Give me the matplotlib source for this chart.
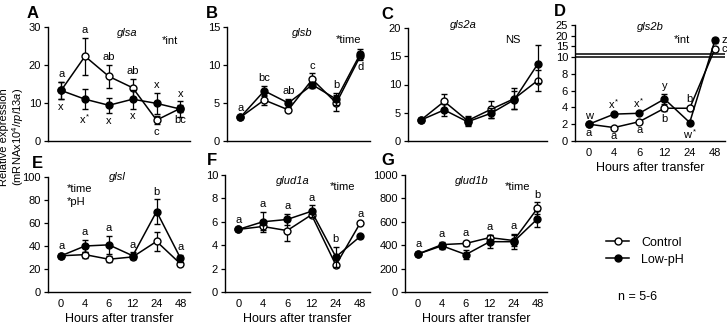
import numpy as np
import matplotlib
matplotlib.use('Agg')
import matplotlib.pyplot as plt
from matplotlib.lines import Line2D

plt.rcParams['font.family'] = ['Liberation Sans', 'DejaVu Sans']
plt.rcParams['mathtext.fontset'] = 'custom'
plt.rcParams['mathtext.rm'] = 'Liberation Sans'
plt.rcParams['mathtext.it'] = 'Liberation Sans:italic'

hours = ['0', '4', '6', '12', '24', '48']

# A glsa
glsa_ctrl = [13.3, 22.3, 17.0, 14.0, 5.5, 8.6]
glsa_ctrl_err = [2.2, 4.8, 3.0, 2.4, 1.0, 1.0]
glsa_low = [13.3, 11.0, 9.4, 11.0, 9.9, 8.4]
glsa_low_err = [2.2, 2.6, 2.0, 2.5, 2.8, 2.0]

# B glsb
glsb_ctrl = [3.1, 5.4, 4.1, 8.1, 5.0, 11.2]
glsb_ctrl_err = [0.2, 0.6, 0.3, 0.8, 1.1, 0.5]
glsb_low = [3.1, 6.6, 5.0, 7.4, 5.5, 11.5]
glsb_low_err = [0.2, 0.7, 0.5, 0.4, 0.8, 0.6]

# C gls2a
gls2a_ctrl = [3.7, 7.0, 3.6, 5.6, 7.5, 10.7]
gls2a_ctrl_err = [0.3, 1.4, 0.8, 1.5, 1.9, 1.8]
gls2a_low = [3.7, 5.5, 3.4, 4.9, 7.3, 13.6]
gls2a_low_err = [0.3, 1.1, 0.8, 0.9, 1.6, 3.4]

# D gls2b
gls2b_ctrl = [2.0, 1.6, 2.3, 3.9, 3.9, 13.8]
gls2b_ctrl_err = [0.1, 0.1, 0.1, 0.3, 0.2, 0.8]
gls2b_low = [2.0, 3.2, 3.3, 5.0, 2.2, 17.8]
gls2b_low_err = [0.1, 0.1, 0.1, 0.6, 0.2, 1.2]

# E glsl
glsl_ctrl = [31.5, 32.5, 28.5, 30.5, 44.0, 24.5]
glsl_ctrl_err = [1.5, 2.5, 2.5, 2.0, 8.0, 2.0]
glsl_low = [31.5, 40.0, 41.0, 31.5, 70.0, 29.5]
glsl_low_err = [1.5, 5.0, 8.0, 3.0, 10.5, 3.0]

# F glud1a
glud1a_ctrl = [5.35, 5.6, 5.25, 6.6, 2.3, 5.9]
glud1a_ctrl_err = [0.15, 0.3, 0.85, 0.2, 0.2, 0.1]
glud1a_low = [5.35, 6.0, 6.2, 6.9, 3.0, 4.75]
glud1a_low_err = [0.15, 0.85, 0.5, 0.5, 0.85, 0.1]

# G glud1b
glud1b_ctrl = [325, 405, 415, 465, 440, 715]
glud1b_ctrl_err = [15, 20, 20, 20, 45, 50]
glud1b_low = [325, 395, 320, 430, 430, 625]
glud1b_low_err = [15, 25, 35, 55, 65, 70]

W, H = 727, 327
fig = plt.figure(figsize=(W / 100, H / 100), dpi=100)


def px_axes(x0, x1, ytop, ybot):
    return fig.add_axes([x0 / W, 1 - ybot / H, (x1 - x0) / W, (ybot - ytop) / H])


def style(ax, ylim, yticks, xlabels=False):
    x = np.arange(6)
    ax.set_xlim(-0.55, 5.4)
    ax.set_ylim(*ylim)
    ax.set_yticks(yticks)
    ax.spines[['top', 'right']].set_visible(False)
    ax.spines[['left', 'bottom']].set_linewidth(1.0)
    ax.tick_params(axis='y', direction='out', length=3, width=0.9, labelsize=8, pad=2)
    ax.tick_params(axis='x', length=0, labelsize=8, pad=5)
    ax.set_xticks(x)
    if xlabels:
        ax.set_xticklabels(hours)
        ax.set_xlabel('Hours after transfer', fontsize=9, labelpad=3)
    else:
        ax.set_xticklabels([])


def draw(ax, ctrl, ctrl_err, low, low_err):
    x = np.arange(6)
    kw = dict(fmt='-o', color='k', ms=5, lw=1.1, capsize=2, elinewidth=0.9, capthick=0.9, mec='k', mew=1.0)
    ax.errorbar(x, ctrl, yerr=ctrl_err, mfc='white', zorder=3, **kw)
    ax.errorbar(x, low, yerr=low_err, mfc='k', zorder=4, **kw)


def letters(ax, vals, errs, marks, side):
    for i, m in enumerate(marks):
        if not m:
            continue
        if side[i] == 'up':
            ax.annotate(m, (i, vals[i] + errs[i]), xytext=(0, 2), textcoords='offset points',
                        ha='center', va='bottom', fontsize=8)
        elif side[i] == 'down':
            ax.annotate(m, (i, vals[i] - errs[i]), xytext=(0, -2), textcoords='offset points',
                        ha='center', va='top', fontsize=8)
        else:
            ax.annotate(m, (i, vals[i]), xytext=(5, 0), textcoords='offset points',
                        ha='left', va='center', fontsize=8)


def top_marks(ax, a, ae, b, be, marks):
    hi = [max(a[i] + ae[i], b[i] + be[i]) for i in range(6)]
    letters(ax, hi, [0] * 6, marks, ['up'] * 6)


def panel_text(ax, letter, lx, gene, gx, gy, note, nx, ny):
    ax.text(gx, gy, gene, transform=ax.transAxes, fontsize=8, style='italic', ha='center', va='center')
    for k, line in enumerate(note.split('\n')):
        ax.text(nx, ny - k * 0.12, line, transform=ax.transAxes, fontsize=8, ha='left', va='center')
    ax.text(lx, 1.12, letter, transform=ax.transAxes, fontsize=12, fontweight='bold', ha='center', va='center')


# ---- top row
axA = px_axes(48, 190, 27, 141)
style(axA, (0, 30), [0, 10, 20, 30])
draw(axA, glsa_ctrl, glsa_ctrl_err, glsa_low, glsa_low_err)
letters(axA, glsa_ctrl, glsa_ctrl_err, ['a', 'a', 'ab', 'ab', 'c', 'bc'], ['up', 'up', 'up', 'up', 'down', 'down'])
letters(axA, glsa_low, glsa_low_err, ['x', 'x$^*$', 'x', 'x', 'x', 'x'], ['down', 'down', 'down', 'down', 'up', 'up'])
panel_text(axA, 'A', -0.11, 'glsa', 0.56, 0.95, '*int', 0.80, 0.88)

axB = px_axes(227, 370, 27, 141)
style(axB, (0, 15), [0, 5, 10, 15])
draw(axB, glsb_ctrl, glsb_ctrl_err, glsb_low, glsb_low_err)
top_marks(axB, glsb_ctrl, glsb_ctrl_err, glsb_low, glsb_low_err, ['a', 'bc', 'ab', 'c', 'b', ''])
letters(axB, glsb_ctrl, glsb_ctrl_err, ['', '', '', '', '', 'd'], ['', '', '', '', '', 'down'])
panel_text(axB, 'B', -0.105, 'glsb', 0.53, 0.95, '*time', 0.76, 0.89)

axC = px_axes(408, 547, 28, 141)
style(axC, (0, 20), [0, 5, 10, 15, 20])
draw(axC, gls2a_ctrl, gls2a_ctrl_err, gls2a_low, gls2a_low_err)
panel_text(axC, 'C', -0.15, 'gls2a', 0.40, 1.03, 'NS', 0.70, 0.89)

# D: broken axis via piecewise scale
k = 0.254


def fwd(y):
    y = np.asarray(y, dtype=float)
    return np.where(y <= 10, y, 10 + (y - 10) * k)


def inv(y):
    y = np.asarray(y, dtype=float)
    return np.where(y <= 10, y, 10 + (y - 10) / k)


axD = px_axes(575, 725, 25, 141)
axD.set_yscale('function', functions=(fwd, inv))
style(axD, (0, 25), [0, 2, 4, 6, 8, 10, 15, 20, 25], xlabels=True)
axD.yaxis.set_minor_locator(matplotlib.ticker.NullLocator())
axD.set_yticklabels(['0', '2', '4', '6', '8', '10', '15', '20', '25'])
draw(axD, gls2b_ctrl, gls2b_ctrl_err, gls2b_low, gls2b_low_err)
axD.axhline(10, color='k', lw=1.1, zorder=5)
axD.axhline(11.5, color='k', lw=1.1, zorder=5)
letters(axD, gls2b_ctrl, gls2b_ctrl_err, ['a', 'a', 'a', 'b', 'b', 'c'], ['down', 'down', 'down', 'down', 'up', 'right'])
letters(axD, gls2b_low, gls2b_low_err, ['w', 'x$^*$', 'x$^*$', 'y', 'w$^*$', 'z'], ['up', 'up', 'up', 'up', 'down', 'right'])
panel_text(axD, 'D', -0.10, 'gls2b', 0.50, 0.98, '*int', 0.66, 0.87)

# ---- bottom row
axE = px_axes(48, 190, 177, 292)
style(axE, (0, 100), [0, 20, 40, 60, 80, 100], xlabels=True)
draw(axE, glsl_ctrl, glsl_ctrl_err, glsl_low, glsl_low_err)
top_marks(axE, glsl_ctrl, glsl_ctrl_err, glsl_low, glsl_low_err, ['a', 'a', 'a', 'a', 'b', 'a'])
panel_text(axE, 'E', -0.075, 'glsl', 0.49, 1.0, '*time\n*pH', 0.13, 0.90)

axF = px_axes(225, 370, 175, 292)
style(axF, (0, 10), [0, 2, 4, 6, 8, 10], xlabels=True)
draw(axF, glud1a_ctrl, glud1a_ctrl_err, glud1a_low, glud1a_low_err)
top_marks(axF, glud1a_ctrl, glud1a_ctrl_err, glud1a_low, glud1a_low_err, ['a', 'a', 'a', 'a', 'b', 'a'])
panel_text(axF, 'F', -0.09, 'glud1a', 0.47, 0.95, '*time', 0.72, 0.90)

axG = px_axes(405, 547, 175, 292)
style(axG, (0, 1000), [0, 200, 400, 600, 800, 1000], xlabels=True)
draw(axG, glud1b_ctrl, glud1b_ctrl_err, glud1b_low, glud1b_low_err)
top_marks(axG, glud1b_ctrl, glud1b_ctrl_err, glud1b_low, glud1b_low_err, ['a', 'a', 'a', 'a', 'a', 'b'])
panel_text(axG, 'G', -0.12, 'glud1b', 0.47, 0.95, '*time', 0.70, 0.90)

fig.text(12.5 / W, 0.58, 'Relative expression\n(mRNAx10$^4$/$\\it{rpl13a}$)', rotation=90,
         ha='center', va='center', fontsize=8, linespacing=1.05)

handles = [Line2D([], [], color='k', marker='o', mfc='white', mec='k', ms=5, lw=1.1),
           Line2D([], [], color='k', marker='o', mfc='k', mec='k', ms=5, lw=1.1)]
fig.legend(handles, ['Control', 'Low-pH'], loc='center left', bbox_to_anchor=(595 / W, 1 - 251 / H),
           frameon=False, fontsize=9, handlelength=1.8, handletextpad=1.0, labelspacing=0.4)
fig.text(638 / W, 1 - 297 / H, 'n = 5-6', ha='center', va='center', fontsize=9)

fig.savefig('out.png', dpi=100)
